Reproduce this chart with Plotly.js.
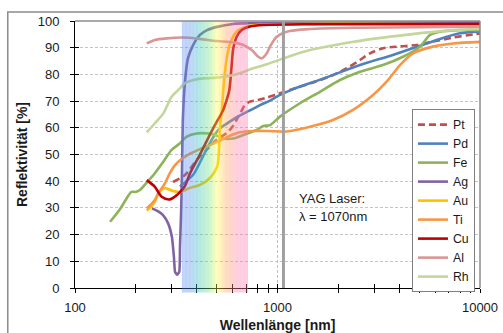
<!DOCTYPE html>
<html><head><meta charset="utf-8">
<script src="https://cdn.plot.ly/plotly-3.0.1.min.js"></script>
<style>html,body{margin:0;padding:0;background:#fff}#chart{width:503px;height:333px}</style>
</head><body><div id="chart"></div>
<script>
// ---- data (wavelength nm, reflectivity %) ----
const seriesNames = ["Pt","Pd","Fe","Ag","Au","Ti","Cu","Al","Rh"];

const ptX = [305,349,400,450,500,560,600,650,690,731,800,885,1000,1200,1500,1815,2197,2555,2864,3327,4027,4865,5870,7380,9270,10000];
const ptY = [39.7,42.3,48,52,55.5,58,60.5,65,68.5,69.8,70.4,71.3,72.6,74.6,77,79.2,82.3,85.4,87.9,89.8,90.5,91,92.3,93.8,95,95.3];

const pdX = [330,384,414,447,491,520,560,630,731,820,918,1029,1197,1718,2555,3715,5458,6855,7963,10000];
const pdY = [38,42.5,47,52,57.5,59.8,61.5,64,66.5,68.5,70.2,72.3,74.5,78.7,83.5,87.3,91.6,94.1,95.4,96.1];

const feX = [149,167,183,190,200,209,226,248,273,300,330,356,399,447,491,540,605,678,789,851,918,1029,1291,1621,2036,2555,3318,4167,5058,5666,6344,7963,10000];
const feY = [24.8,29.6,34.5,36,36,36.7,39.5,43,47.3,51.7,54.2,56.7,57.9,57.9,57.3,56,56,57.3,59.2,60.7,61,64.2,69.2,73.5,77.9,81,83.5,86.6,90.4,94.8,96,96.6,96.6];

const agX = [240,260,272,288,301,308,312,319,327,330,334,337,341,349,361,383,414,449,503,603,731,10000];
const agY = [29.8,28.5,27.3,24.3,19.1,11.6,6,5,6,15.4,28,40.4,63,77,86,91,94.8,96.6,97.8,98.9,99.2,99.5];

const auX = [226,234,248,258,278,305,330,370,414,464,503,514,520,530,544,561,587,629,705,820,10000];
const auY = [29,30,32.3,35.5,37.4,36.3,36,37.5,38.6,41.2,45.3,51.7,60.3,66,77.3,86,92.2,96,97.9,98.6,98.7];

const tiX = [226,248,258,278,294,312,336,370,414,464,520,582,653,757,900,1109,1446,1879,2360,2963,3460,4027,4667,5860,7360,10000];
const tiY = [29.8,33,35.5,39.2,43,46,48.3,50.3,52,53.5,55.2,57,58.3,58.8,58.8,58.6,60.4,62.9,66.7,72.3,77.3,83.5,87.9,90.4,91.6,92.2];

const cuX = [226,248,268,294,324,349,370,414,464,503,538,564,578,594,605,629,666,731,848,1500,10000];
const cuY = [40.4,37.9,34.2,33.2,35.3,38.2,43,50,57.5,62.5,66.5,71,74,83.5,89.8,94.1,96.6,97.9,98.5,98.8,98.9];

const alX = [226,248,284,343,414,501,605,678,746,804,836,885,918,991,1110,1446,2555,10000];
const alY = [91.6,92.9,93.5,93.8,93.3,92.5,92,91,89.1,86.6,86,87.9,90.4,94.1,96,97,97.5,97.9];

const rhX = [226,248,273,300,324,349,384,430,501,561,653,759,885,1069,1446,2113,3090,4508,6590,10000];
const rhY = [58.3,61.7,65.4,71.6,74.2,76.7,77.9,78.5,78.8,79.2,80.4,82.3,83.8,86,89.1,91.6,93.5,95,96.3,97];

const xTickVals = [100,200,300,400,500,600,700,800,900,1000,2000,3000,4000,5000,6000,7000,8000,9000,10000];
const xTickText = ["100","","","","","","","","","1000","","","","","","","","","10000"];
const yTickVals = [0,10,20,30,40,50,60,70,80,90,100];

const visibleBand = [337, 715];   // nm, coloured band
const yagWavelength = 1070;       // nm

// ---- styling ----
const colors = {Pt:"#c0504d",Pd:"#4f81bd",Fe:"#8db35a",Ag:"#8064a2",Au:"#ffc000",Ti:"#f79646",Cu:"#c00000",Al:"#d99694",Rh:"#c3d69b"};
const xs = {Pt:ptX,Pd:pdX,Fe:feX,Ag:agX,Au:auX,Ti:tiX,Cu:cuX,Al:alX,Rh:rhX};
const ys = {Pt:ptY,Pd:pdY,Fe:feY,Ag:agY,Au:auY,Ti:tiY,Cu:cuY,Al:alY,Rh:rhY};

const traces = seriesNames.map(n => ({
  type:"scatter", mode:"lines", name:n, x:xs[n], y:ys[n],
  line:{color:colors[n], width:2.6, shape:"spline", smoothing:(n==="Ag"?0.5:0.8), dash:(n==="Pt"?"7px,4px":"solid")}
}));
traces.push({type:"scatter", mode:"lines", x:[], y:[], xaxis:"x2", yaxis:"y2", showlegend:false, hoverinfo:"skip"});

// gradient band as thin slices
const stops = [[0,[91,143,240]],[0.12,[91,143,240]],[0.25,[47,192,192]],[0.42,[128,230,128]],[0.53,[255,255,80]],[0.68,[255,160,96]],[0.85,[255,128,176]],[1,[255,128,176]]];
function colAt(t){
  for(let i=0;i<stops.length-1;i++){
    const a=stops[i], b=stops[i+1];
    if(t>=a[0] && t<=b[0]){
      const f = (b[0]===a[0])?0:(t-a[0])/(b[0]-a[0]);
      const c = a[1].map((v,k)=>Math.round(v+(b[1][k]-v)*f));
      return "rgb("+c.join(",")+")";
    }
  }
  return "rgb(255,128,176)";
}
const shapes = [];
// outer chart border
shapes.push({type:"rect", xref:"paper", yref:"paper", x0:-0.166, x1:1.3, y0:-0.4, y1:1.034, line:{color:"#8c8c8c", width:1.5}, fillcolor:"rgba(0,0,0,0)", layer:"below"});
// vertical grid at 1000
shapes.push({type:"line", xref:"x", yref:"paper", x0:1000, x1:1000, y0:0, y1:1, line:{color:"#bfbfbf", width:1, dash:"3px,2px"}, layer:"below"});
const N = 48;
const l0 = Math.log10(visibleBand[0]), l1 = Math.log10(visibleBand[1]);
for(let i=0;i<N;i++){
  const a = Math.pow(10, l0+(l1-l0)*i/N), b = Math.pow(10, l0+(l1-l0)*(i+1)/N);
  shapes.push({type:"rect", xref:"x", yref:"paper", x0:a, x1:b, y0:-0.017, y1:1, fillcolor:colAt((i+0.5)/N), opacity:0.4, line:{width:0}, layer:"above"});
}
// plot area top/right border
shapes.push({type:"line", xref:"paper", yref:"paper", x0:0, x1:1, y0:1, y1:1, line:{color:"#8c8c8c", width:1.5}, layer:"above"});
shapes.push({type:"line", xref:"paper", yref:"paper", x0:1, x1:1, y0:0, y1:1, line:{color:"#8c8c8c", width:1.5}, layer:"above"});
// YAG laser line
shapes.push({type:"line", xref:"x", yref:"paper", x0:yagWavelength, x1:yagWavelength, y0:0, y1:1, line:{color:"#a0a0a0", width:3}, layer:"above"});

const font = "Liberation Sans, Arial, sans-serif";
const layout = {
  width:503, height:333,
  margin:{l:75, r:23, t:21, b:45, pad:0},
  paper_bgcolor:"#fff", plot_bgcolor:"#fff",
  font:{family:font, size:13, color:"#1a1a1a"},
  showlegend:true,
  legend:{x:0.832, y:0.67, xanchor:"left", yanchor:"top", bgcolor:"#fff", bordercolor:"#808080", borderwidth:1, font:{family:font, size:12.3, color:"#1a1a1a"}},
  xaxis:{type:"log", range:[2,4], tickvals:xTickVals, ticktext:xTickText, ticks:"outside", ticklen:4, tickcolor:"#000", tickwidth:1,
    showline:true, linecolor:"#000", linewidth:1, showgrid:false, zeroline:false, ticklabelstandoff:3,
    tickfont:{family:font, size:13, color:"#1a1a1a"},
    title:{text:"Wellenlänge [nm]", font:{family:font, size:14, color:"#1a1a1a", weight:"bold"}, standoff:7}},
  yaxis:{range:[0,100], tickvals:yTickVals, ticks:"outside", ticklen:4, tickcolor:"#000", tickwidth:1,
    showline:true, linecolor:"#000", linewidth:1, showgrid:true, gridcolor:"#c4c4c4", gridwidth:1, griddash:"3px,2px", zeroline:false,
    ticklabelstandoff:8, tickfont:{family:font, size:13, color:"#1a1a1a"},
    title:{text:"Reflektivität [%]", font:{family:font, size:14, color:"#1a1a1a", weight:"bold"}, standoff:6}},
  xaxis2:{type:"log", range:[2,4], overlaying:"x", anchor:"y2", tickvals:xTickVals, ticks:"inside", ticklen:4, tickcolor:"#000",
    showticklabels:false, showline:false, showgrid:false, zeroline:false},
  yaxis2:{range:[0,100], overlaying:"y", anchor:"x2", side:"left", tickvals:yTickVals, ticks:"inside", ticklen:4, tickcolor:"#000",
    showticklabels:false, showline:false, showgrid:false, zeroline:false},
  shapes:shapes,
  annotations:[
    {xref:"paper", yref:"paper", x:0.547, y:0.337, xanchor:"left", yanchor:"middle", text:"YAG Laser:", showarrow:false, font:{family:font, size:13, color:"#1a1a1a"}},
    {xref:"paper", yref:"paper", x:0.547, y:0.266, xanchor:"left", yanchor:"middle", text:"λ = 1070nm", showarrow:false, font:{family:font, size:13, color:"#1a1a1a"}}
  ]
};
Plotly.newPlot("chart", traces, layout, {staticPlot:true, displayModeBar:false});
</script></body></html>
